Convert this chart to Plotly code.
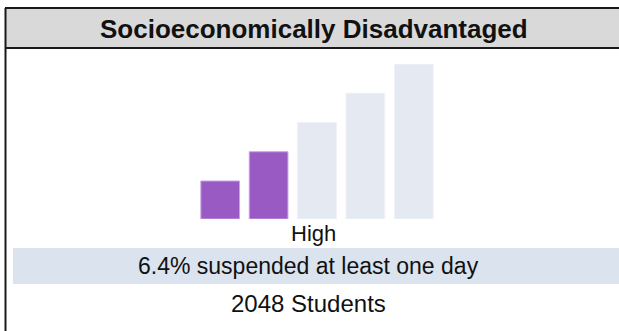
import plotly.graph_objects as go

W, H = 619, 331

# Suspension-rate level bars: the first `level_index` bars are highlighted
levels = ["1", "2", "3", "4", "5"]
bar_heights = [1, 2, 3, 4, 5]
level_index = 2

title_text = "Socioeconomically Disadvantaged"
level_label = "High"
rate_text = "6.4% suspended at least one day"
count_text = "2048 Students"

ON_COLOR = "#995bc3"
OFF_COLOR = "#e4e9f2"
colors = [ON_COLOR if i < level_index else OFF_COLOR for i in range(len(levels))]
edge = ["#c9a6e0" if i < level_index else "#eef1f6" for i in range(len(levels))]

# bars rise from a common floor slightly below zero
FLOOR = -0.3


def px(x):
    return x / W


def py(y):
    return 1 - y / H


fig = go.Figure(
    go.Bar(
        x=levels,
        y=[h - FLOOR for h in bar_heights],
        base=FLOOR,
        marker=dict(color=colors, line=dict(color=edge, width=1)),
        hoverinfo="skip",
    )
)

FONT = "Liberation Sans, Arial, sans-serif"

shapes = [
    # header band
    dict(type="rect", xref="paper", yref="paper", x0=px(5), x1=px(640),
         y0=py(48), y1=py(8), fillcolor="#d9d9d9", line=dict(width=0), layer="below"),
    # header lines
    dict(type="line", xref="paper", yref="paper", x0=px(5), x1=px(640),
         y0=py(8), y1=py(8), line=dict(color="#1a1a1a", width=2)),
    dict(type="line", xref="paper", yref="paper", x0=px(5), x1=px(640),
         y0=py(48), y1=py(48), line=dict(color="#1a1a1a", width=2)),
    # left border
    dict(type="line", xref="paper", yref="paper", x0=px(5.5), x1=px(5.5),
         y0=py(8), y1=py(340), line=dict(color="#1a1a1a", width=2)),
    # rate band
    dict(type="rect", xref="paper", yref="paper", x0=px(13), x1=px(640),
         y0=py(284), y1=py(248), fillcolor="#dae3ee", line=dict(width=0), layer="below"),
]

annotations = [
    dict(text=f"<b>{title_text}</b>", x=px(314), y=py(29), font=dict(size=26, color="#111")),
    dict(text=level_label, x=px(313), y=py(233), font=dict(size=22, color="#111")),
    dict(text=rate_text, x=px(308), y=py(266), font=dict(size=23, color="#111")),
    dict(text=count_text, x=px(308), y=py(303), font=dict(size=24, color="#111")),
]
for a in annotations:
    a.update(xref="paper", yref="paper", showarrow=False, xanchor="center", yanchor="middle",
             font=dict(family=FONT, **a["font"]))

fig.update_layout(
    width=W,
    height=H,
    margin=dict(l=0, r=0, t=0, b=0),
    paper_bgcolor="white",
    plot_bgcolor="white",
    showlegend=False,
    bargap=0.2,
    shapes=shapes,
    annotations=annotations,
    xaxis=dict(domain=[px(196), px(438)], visible=False, fixedrange=True),
    yaxis=dict(domain=[py(219), py(64)], range=[FLOOR, 5], visible=False, fixedrange=True),
)

fig.write_html("out.html", config={"displayModeBar": False})
